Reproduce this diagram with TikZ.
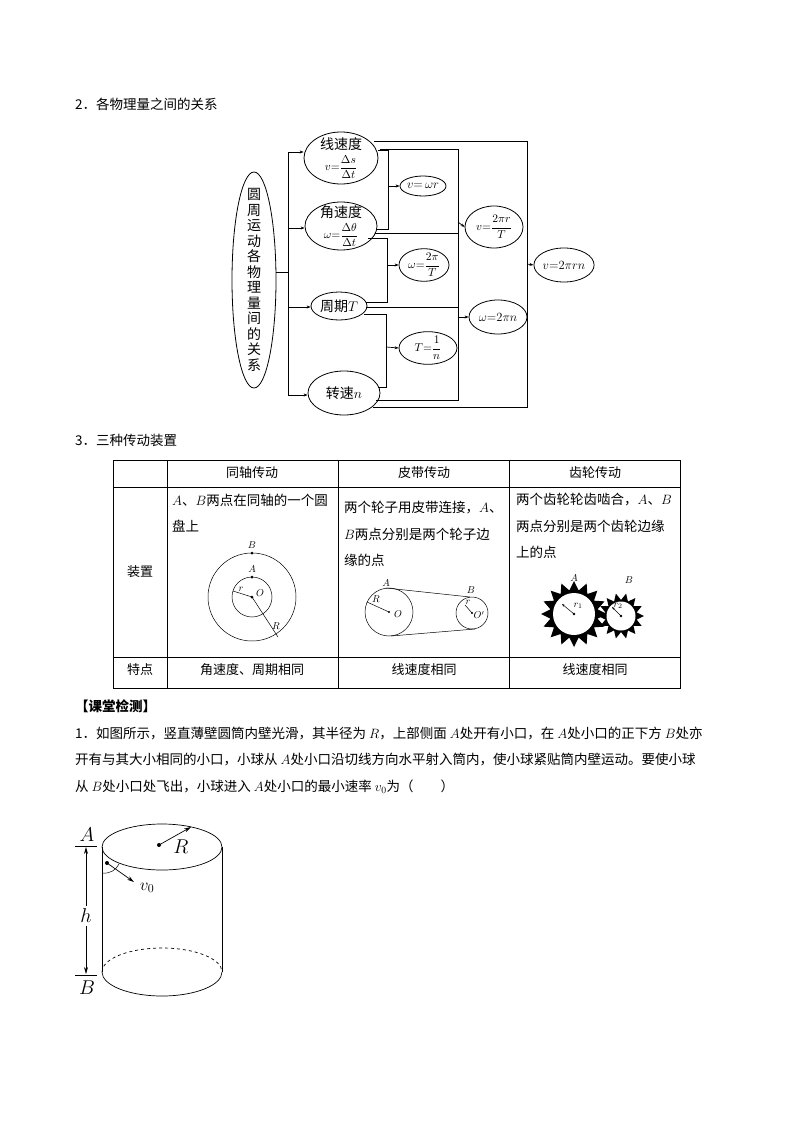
\RequirePackage{fix-cm}
\documentclass[tikz,border=0pt]{standalone}
\usepackage{amsmath}
\usepackage{fontspec}
\setmainfont{Noto Sans CJK SC}
\usetikzlibrary{arrows.meta,shapes.geometric}
\begin{document}
\begin{tikzpicture}[x=1pt,y=-1pt,
  el/.style={draw,ellipse,inner sep=0pt,line width=0.8pt},
  ln/.style={line width=0.7pt},
  ar/.style={ln,-{Stealth[length=4pt,width=3pt]}},
  txt/.style={anchor=west,inner sep=0pt,font=\fontsize{13.5}{15}\selectfont},
  cell/.style={inner sep=0pt,font=\fontsize{13}{15}\selectfont},
  fm/.style={font=\fontsize{12.5}{13}\selectfont},
  ff/.style={font=\fontsize{11.5}{12}\selectfont},
  sm/.style={inner sep=0pt,font=\fontsize{10}{10}\selectfont}]
\useasboundingbox (0,0) rectangle (794,1123);
% ---- section 2
\node[txt] (t2) at (75,104) {2．各物理量之间的关系};
\node[el,minimum width=44pt,minimum height=216pt] (big) at (254,280) {};
\node[align=center,font=\fontsize{14}{15.5}\selectfont,inner sep=0pt] at (254,280) {圆\\周\\运\\动\\各\\物\\理\\量\\间\\的\\关\\系};
\node[el,minimum width=74pt,minimum height=52pt] (xs) at (341,158) {};
\node[inner sep=0pt,font=\fontsize{14}{14}\selectfont] at (341,144) {线速度};
\node[inner sep=0pt,ff] at (341,167) {$v{=}\dfrac{\Delta s}{\Delta t}$};
\node[el,minimum width=72pt,minimum height=48pt] (js) at (341,226) {};
\node[inner sep=0pt,font=\fontsize{14}{14}\selectfont] at (341,212) {角速度};
\node[inner sep=0pt,ff] at (341,235) {$\omega{=}\dfrac{\Delta\theta}{\Delta t}$};
\node[el,minimum width=56pt,minimum height=28pt,font=\fontsize{14}{14}\selectfont] (zq) at (339,306) {周期$T$};
\node[el,minimum width=72pt,minimum height=44pt,font=\fontsize{14}{14}\selectfont] (zs) at (344,393) {转速$n$};
\node[el,minimum width=46pt,minimum height=20pt,fm] (r1) at (423,186) {$v{=}\,\omega r$};
\node[el,minimum width=50pt,minimum height=30pt,ff] (r2) at (424,265) {$\omega{=}\dfrac{2\pi}{T}$};
\node[el,minimum width=58pt,minimum height=28pt,ff] (r3) at (428,348) {$T{=}\dfrac{1}{n}$};
\node[el,minimum width=58pt,minimum height=42pt,ff] (r4) at (494,227) {$v{=}\dfrac{2\pi r}{T}$};
\node[el,minimum width=58pt,minimum height=34pt,fm] (r5) at (498,317) {$\omega{=}2\pi n$};
\node[el,minimum width=60pt,minimum height=34pt,fm] (r6) at (564,265) {$v{=}2\pi rn$};
% trunk
\coordinate (tk) at (288,272);
\draw[ln] (big.east |- tk) -- (tk);
\draw[ln] (288,152) -- (288,395);
\draw[ar] (288,152) -- (xs.west |- 0,152);
\draw[ar] (288,228) -- (js.west |- 0,228);
\draw[ar] (288,307) -- (zq.west |- 0,307);
\draw[ar] (288,395) -- (zs.west |- 0,395);
\draw[ln] (378,150) -- (388,150) -- (388,229) -- (376,229);
\draw[ar] (388,186) -- (r1.west);
\draw[ln] (368,238) -- (387,238) -- (387,302) -- (366,302);
\draw[ar] (387,265) -- (r2.west);
\draw[ln] (364,314) -- (386,314) -- (386,387) -- (378,387);
\draw[ar] (386,347) -- (r3.west);
\draw[ln] (380,149) -- (458,149) -- (458,400) -- (376,400);
\draw[ln] (375,233) -- (458,233);
\draw[ln] (366,307) -- (458,307);
\draw[ar] (458,222) -- (r4.west);
\draw[ar] (458,317) -- (r5.west);
\draw[ln] (374,141) -- (527,141) -- (527,407) -- (373,407);
\draw[ar] (527,264) -- (r6.west);
% ---- section 3
\node[txt] (t3) at (75,440) {3．三种传动装置};
\draw[line width=0.8pt] (113,460) rectangle (680,688);
\draw[ln] (113,487) -- (680,487) (113,657) -- (680,657);
\draw[ln] (167,460) -- (167,688) (338,460) -- (338,688) (509,460) -- (509,688);
\node[cell] (h1) at (252,473) {同轴传动};
\node[cell] (h2) at (424,473) {皮带传动};
\node[cell] (h3) at (595,473) {齿轮传动};
\node[cell] (zz) at (140,572) {装置};
\node[cell] (td) at (140,670) {特点};
\node[cell] (c1) at (252,670) {角速度、周期相同};
\node[cell] (c2) at (424,670) {线速度相同};
\node[cell] (c3) at (595,670) {线速度相同};
\node[txt] at (172,500) {$A$、$B$两点在同轴的一个圆};
\node[txt] at (172,526) {盘上};
\node[txt] at (344,508) {两个轮子用皮带连接，$A$、};
\node[txt] at (344,534) {$B$两点分别是两个轮子边};
\node[txt] at (344,560) {缘的点};
\node[txt] at (516,500) {两个齿轮轮齿啮合，$A$、$B$};
\node[txt] at (516,526) {两点分别是两个齿轮边缘};
\node[txt] at (516,552) {上的点};
% coaxial figure
\coordinate (O1) at (252,597);
\draw[line width=0.5pt] (O1) circle (44) (O1) circle (20);
\fill (O1) circle (1.5) (252,553) circle (1.5) (252,577) circle (1.5);
\draw[line width=0.5pt] (O1) -- (233,591) (O1) -- (278,637);
\node[sm] at (252,545) {$B$};
\node[sm] at (252,569) {$A$};
\node[sm] at (260,593) {$O$};
\node[sm] at (241,589) {$r$};
\node[sm] at (276,626) {$R$};
% belt figure
\coordinate (O2) at (389,612);
\coordinate (O3) at (472,613);
\draw[line width=0.5pt] (O2) circle (24) (O3) circle (16);
\draw[line width=0.5pt] (386,588) -- (470,597) (391,636) -- (475,629);
\fill (O2) circle (1.2) (O3) circle (1.2);
\draw[line width=0.5pt] (O2) -- (367,602) (O3) -- (465,605);
\node[sm] at (386,583) {$A$};
\node[sm] at (471,590) {$B$};
\node[sm] at (376,599) {$R$};
\node[sm] at (398,614) {$O$};
\node[sm] at (468,602) {$r$};
\node[sm] at (479,615) {$O'$};
% gears
\fill plot[samples=33,domain=0:360,variable=\t] ({574+(28.5+4.5*cos(16*\t))*cos(\t)},{614+(28.5+4.5*cos(16*\t))*sin(\t)}) -- cycle;
\fill[white] (574,614) circle (21);
\fill plot[samples=29,domain=0:360,variable=\t] ({621+(19.5+3.5*cos(14*\t))*cos(\t)},{616+(19.5+3.5*cos(14*\t))*sin(\t)}) -- cycle;
\fill[white] (621,616) circle (14.5);
\fill (574,614) circle (1.3) (621,616) circle (1.3);
\draw[line width=0.5pt,-{Stealth[length=3pt]}] (574,614) -- (562,604);
\draw[line width=0.5pt,-{Stealth[length=3pt]}] (621,616) -- (612,607);
\node[sm] at (578,606) {$r_1$};
\node[sm] at (618,606) {$r_2$};
\node[sm] at (574,578) {$A$};
\node[sm] at (629,580) {$B$};
% ---- test section
\node[txt,font=\fontsize{13.5}{15}\selectfont\bfseries] at (75,706) {【课堂检测】};
\node[txt] at (75,733) {1．如图所示，竖直薄壁圆筒内壁光滑，其半径为 $R$，上部侧面 $A$处开有小口，在 $A$处小口的正下方 $B$处亦};
\node[txt] at (75,760) {开有与其大小相同的小口，小球从 $A$处小口沿切线方向水平射入筒内，使小球紧贴筒内壁运动。要使小球};
\node[txt] at (75,787) {从 $B$处小口处飞出，小球进入 $A$处小口的最小速率 $v_0$为（\hspace{2em}）};
% cylinder
\draw[line width=0.7pt] (162,847) ellipse (60 and 23);
\draw[line width=0.7pt] (102,847) -- (102,972) (222,847) -- (222,972);
\draw[line width=0.7pt,dashed] (102,972) arc (180:360:60 and 24);
\draw[line width=0.7pt] (102,972) arc (180:0:60 and 24);
\draw[line width=0.7pt] (75,846) -- (97,846) (75,975) -- (97,975);
\node[font=\fontsize{20}{20}\selectfont] (lA) at (87,835) {$A$};
\node[font=\fontsize{20}{20}\selectfont] (lB) at (87,988) {$B$};
\node[font=\fontsize{20}{20}\selectfont] (lh) at (86,916) {$h$};
\draw[line width=0.7pt,-{Stealth[length=7pt,width=4pt]}] (lh.north) -- (86,847);
\draw[line width=0.7pt,-{Stealth[length=7pt,width=4pt]}] (lh.south) -- (86,974);
\coordinate (cR) at (159,845);
\coordinate (eR) at (191,827);
\fill (cR) circle (2);
\draw[line width=0.7pt,-{Stealth[length=7pt,width=4pt]}] (cR) -- (eR);
\node[font=\fontsize{20}{20}\selectfont] at (181,847) {$R$};
\coordinate (cv) at (107,863);
\coordinate (ev) at (134,882);
\fill (cv) circle (2);
\draw[line width=0.7pt,-{Stealth[length=7pt,width=4pt]}] (cv) -- (ev);
\draw[line width=0.5pt] (102,873) .. controls (110,874) and (116,870) .. (119,864);
\node[font=\fontsize{17}{17}\selectfont] at (147,888) {$v_0$};
\end{tikzpicture}
\end{document}
